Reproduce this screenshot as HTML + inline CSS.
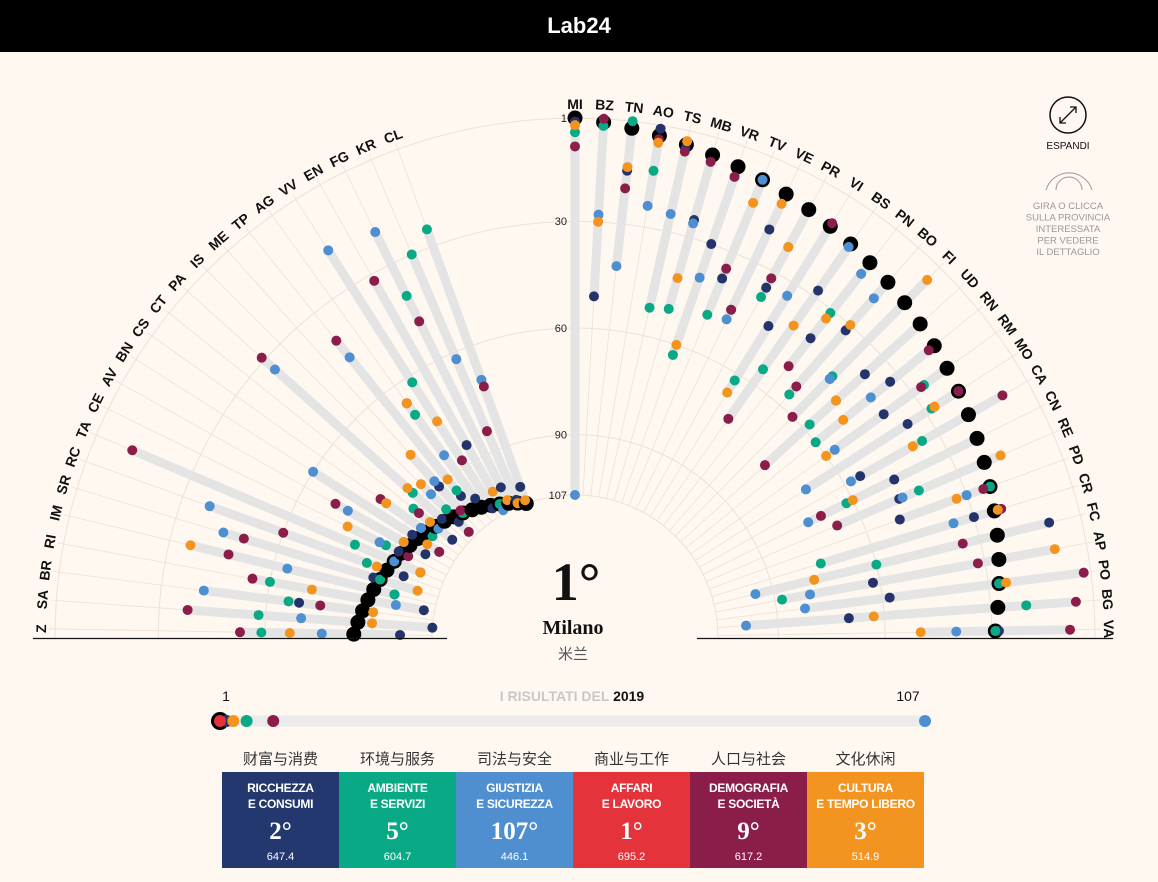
<!DOCTYPE html>
<html><head><meta charset="utf-8">
<style>
html,body{margin:0;padding:0;background:#fef8f1;width:1158px;height:882px;overflow:hidden;font-family:"Liberation Sans","Noto Sans CJK SC",sans-serif;}
#hdr{position:absolute;left:0;top:0;width:1158px;height:52px;background:#000;color:#fff;text-align:center;font:bold 22px/52px "Liberation Sans",sans-serif;}
svg{position:absolute;left:0;top:0;}
.box{position:absolute;top:772px;width:117px;height:96px;color:#fff;text-align:center;}
.box .t{font:bold 12px/16px "Liberation Sans Narrow","Liberation Sans",sans-serif;margin-top:8px;letter-spacing:-0.3px;}
.box .r{font:bold 25px/28px "Liberation Serif",serif;margin-top:6px;}
.box .s{font:11px/14px "Liberation Sans",sans-serif;margin-top:4px;}
.zh{position:absolute;top:748px;width:117px;text-align:center;font:15px "Liberation Sans","Noto Sans CJK SC",sans-serif;color:#333;}
</style></head>
<body>
<div id="hdr">Lab<span style="color:#fff">2</span>4</div>
<svg id="chart" width="1158" height="882"></svg>

<div class="zh" style="left:222px">财富与消费</div>
<div class="zh" style="left:339px">环境与服务</div>
<div class="zh" style="left:456px">司法与安全</div>
<div class="zh" style="left:573px">商业与工作</div>
<div class="zh" style="left:690px">人口与社会</div>
<div class="zh" style="left:807px">文化休闲</div>

<div class="box" style="left:222px;background:#22386f"><div class="t">RICCHEZZA<br>E CONSUMI</div><div class="r">2°</div><div class="s">647.4</div></div>
<div class="box" style="left:339px;background:#0aa985"><div class="t">AMBIENTE<br>E SERVIZI</div><div class="r">5°</div><div class="s">604.7</div></div>
<div class="box" style="left:456px;background:#4f8fcf"><div class="t">GIUSTIZIA<br>E SICUREZZA</div><div class="r">107°</div><div class="s">446.1</div></div>
<div class="box" style="left:573px;background:#e4333b"><div class="t">AFFARI<br>E LAVORO</div><div class="r">1°</div><div class="s">695.2</div></div>
<div class="box" style="left:690px;background:#8a1e48"><div class="t">DEMOGRAFIA<br>E SOCIETÀ</div><div class="r">9°</div><div class="s">617.2</div></div>
<div class="box" style="left:807px;background:#f39420"><div class="t">CULTURA<br>E TEMPO LIBERO</div><div class="r">3°</div><div class="s">514.9</div></div>

<script>
// ---- data ----
const rightNames=["MI","BZ","TN","AO","TS","MB","VR","TV","VE","PR","VI","BS","PN","BO","FI","UD","RN","RM","MO","CA","CN","RE","PD","CR","FC","AP","PO","BG","VA"];
const rightOverall=[1,2,3,4,5,6,7,8,9,10,11,12,13,14,15,16,17,18,19,20,21,22,23,24,25,26,27,28,29];
const rightNavy=[2,51,15,2,6,25,30,38,20,35,44,28,40,32,45,37,33,40,36,55,47,48,50,30,10,62,58,70,28];
const rightGreen=[5,3,1,14,52,51,63,49,45,38,62,55,31,56,44,58,60,26,28,35,62,42,23,75,60,88,27,20,29];
const rightBlue=[107,28,42,24,25,26,40,8,48,22,34,13,17,20,45,48,40,57,70,58,74,47,30,36,95,80,82,99,40];
const rightRed=[1,2,3,5,6,7,7,8,9,10,11,12,13,14,15,16,17,18,19,20,21,22,23,24,25,26,27,28,29];
const rightMaroon=[9,1,20,5,7,8,10,35,45,32,10,72,50,53,60,75,19,27,19,9,70,67,25,22,35,32,3,6,8];
const rightOrange=[3,30,14,6,4,42,60,15,12,22,66,40,33,30,6,48,50,60,27,38,60,17,33,23,78,10,25,63,50];

const leftNames=["Z","SA","BR","RI","IM","SR","RC","TA","CE","AV","BN","CS","CT","PA","IS","ME","TP","AG","VV","EN","FG","KR","CL"];
const leftOverall=[85,86,87,88,89,90,91,92,93,94,95,96,97,98,99,100,101,102,103,104,105,106,107];
const leftNavy=[98,107,69,104,95,88,96,100,92,99,93,94,103,97,101,90,96,99,104,85,100,105,102];
const leftGreen=[59,58,66,60,95,90,85,80,88,92,102,98,89,86,96,100,94,70,62,104,40,30,25];
const leftBlue=[76,70,42,96,64,44,38,92,86,74,60,94,98,34,90,88,46,84,18,106,20,62,70];
const leftRed=[85,86,87,88,89,90,91,92,93,94,95,96,97,98,99,100,101,102,103,104,105,106,107];
const leftMaroon=[53,38,75,55,47,50,60,12,95,70,102,80,91,29,105,99,40,66,88,32,48,84,72];
const leftOrange=[67,90,90,72,36,101,88,100,76,92,98,82,95,84,86,78,90,66,75,100,104,106,106];

const rankTicks=[1,30,60,90,107];
const legendRanks=[2,5,107,1,9,3]; // navy, green, blue, red, maroon, orange for Milano

// ---- drawing ----
const NS="http://www.w3.org/2000/svg";
const svg=document.getElementById('chart');
const cx=575, cy=638, R1=520, R107=143;
function rr(rank){return R1-(rank-1)*(R1-R107)/106;}
function pt(a,r){const t=a*Math.PI/180;return [cx+r*Math.sin(t), cy-r*Math.cos(t)];}
function mk(tag,attrs){const e=document.createElementNS(NS,tag);for(const k in attrs)e.setAttribute(k,attrs[k]);return e;}
const COL={navy:"#25336b",green:"#0aa985",blue:"#4d8fd1",red:"#e4333b",maroon:"#8b1d4a",orange:"#f3941f"};

const gGrid=mk('g',{});
svg.appendChild(gGrid);
rankTicks.forEach(rk=>{
  const r=rr(rk);
  const p0=pt(-90,r),p1=pt(90,r);
  const a=mk('path',{d:`M${p0[0]},${p0[1]} A${r},${r} 0 0 1 ${p1[0]},${p1[1]}`,fill:'none',stroke:'#ece1d6','stroke-width':1});
  
  
  gGrid.appendChild(a);
});

function drawFan(names,angleFn,overall,navy,green,blue,red,maroon,orange){
  const gBars=mk('g',{}),gDots=mk('g',{}),gLab=mk('g',{});
  svg.appendChild(gBars);svg.appendChild(gDots);svg.appendChild(gLab);
  names.forEach((n,i)=>{
    const a=angleFn(i);
    const p0=pt(a,R107),p1=pt(a,R1+6);
    const ln=mk('line',{x1:p0[0],y1:p0[1],x2:p1[0],y2:p1[1],stroke:'#ece1d6','stroke-width':0.8});
    
    
    gGrid.appendChild(ln);
    const vals=[overall[i],navy[i],green[i],blue[i],red[i],maroon[i],orange[i]];
    const mn=Math.min(...vals),mx=Math.max(...vals);
    const b0=pt(a,rr(mn)),b1=pt(a,rr(mx));
    const bar=mk('line',{x1:b0[0],y1:b0[1],x2:b1[0],y2:b1[1],stroke:'#e4e4e4','stroke-width':9,'stroke-linecap':'round'});
    
    
    gBars.appendChild(bar);
    const seq=[['red',red[i]],['black',overall[i]],['navy',navy[i]],['green',green[i]],['blue',blue[i]],['maroon',maroon[i]],['orange',orange[i]]];
    seq.forEach(([c,v])=>{
      const p=pt(a,rr(v));
      const big=c==='black';
      const d=mk('circle',{cx:p[0],cy:p[1],r:big?7.5:5,fill:big?'#000':COL[c]});
      
      
      gDots.appendChild(d);
    });
    const lp=pt(a,R1+14);
    const t=mk('text',{x:lp[0],y:lp[1],'text-anchor':'middle','dominant-baseline':'central','font-size':14,'font-weight':'bold','font-family':'Liberation Sans, sans-serif',fill:'#111',transform:`rotate(${a} ${lp[0]} ${lp[1]})`});
    t.textContent=n;
    
    
    gLab.appendChild(t);
  });
}
drawFan(rightNames,i=>i*3.18,rightOverall,rightNavy,rightGreen,rightBlue,rightRed,rightMaroon,rightOrange);
drawFan(leftNames,k=>-89+k*3.14,leftOverall,leftNavy,leftGreen,leftBlue,leftRed,leftMaroon,leftOrange);

rankTicks.forEach(rk=>{
  const t=mk('text',{x:567,y:cy-rr(rk)+4,'text-anchor':'end','font-size':11,'font-family':'Liberation Sans, sans-serif',fill:'#222'});
  t.textContent=rk;
  
  
  svg.appendChild(t);
});

[[33,447],[697,1113]].forEach(([a,b])=>{
  const l=mk('line',{x1:a,y1:638.5,x2:b,y2:638.5,stroke:'#111','stroke-width':1.2});
  
  
  svg.appendChild(l);
});
const hub1=mk('text',{x:576,y:600,'text-anchor':'middle','font-size':54,'font-weight':'bold','font-family':'Liberation Serif, serif',fill:'#111'});
hub1.textContent='1°';


svg.appendChild(hub1);
const hub2=mk('text',{x:573,y:634,'text-anchor':'middle','font-size':20,'font-weight':'bold','font-family':'Liberation Serif, serif',fill:'#111'});
hub2.textContent='Milano';


svg.appendChild(hub2);
const hub3=mk('text',{x:573,y:659,'text-anchor':'middle','font-size':15,'font-family':'Liberation Sans, Noto Sans CJK SC, sans-serif',fill:'#555'});
hub3.textContent='米兰';


svg.appendChild(hub3);

const bx0=220,bx1=925,by=721;
function bxs(r){return bx0+(r-1)/106*(bx1-bx0);}
const track=mk('line',{x1:bx0,y1:by,x2:bx1,y2:by,stroke:'#ebebeb','stroke-width':11,'stroke-linecap':'round'});


svg.appendChild(track);
const blk=mk('circle',{cx:bxs(1),cy:by,r:9,fill:'#000'});


svg.appendChild(blk);
const legCols=['navy','green','blue','red','maroon','orange'];
[0,2,4,5,1,3].forEach(j=>{
  const c=mk('circle',{cx:bxs(legendRanks[j]),cy:by,r:6,fill:COL[legCols[j]]});
  
  
  svg.appendChild(c);
});
function txt(x,y,s,attrs,name){const t=mk('text',Object.assign({x:x,y:y,'font-family':'Liberation Sans, sans-serif'},attrs));t.textContent=s;svg.appendChild(t);return t;}
txt(226,701,'1',{'font-size':14,'text-anchor':'middle',fill:'#111'},'track-min-label');
txt(908,701,'107',{'font-size':14,'text-anchor':'middle',fill:'#111'},'track-max-label');
const yr=mk('text',{x:572,y:701,'text-anchor':'middle','font-size':14,'font-weight':'bold','font-family':'Liberation Sans Narrow, Liberation Sans, sans-serif'});
yr.innerHTML='<tspan fill="#c8c8c8">I RISULTATI DEL </tspan><tspan fill="#111">2019</tspan>';


svg.appendChild(yr);

const ec=mk('circle',{cx:1068,cy:115,r:18,fill:'none',stroke:'#111','stroke-width':1.5});


svg.appendChild(ec);
const ea=mk('path',{d:'M1060,123 L1076,107 M1070,107 L1076,107 L1076,113 M1060,117 L1060,123 L1066,123',fill:'none',stroke:'#111','stroke-width':1.3});


svg.appendChild(ea);
txt(1068,149,'ESPANDI',{'font-size':10,'text-anchor':'middle',fill:'#111'},'expand-label');
const rot=mk('path',{d:'M1046,190 A24,24 0 0 1 1092,190 M1056,190 A13,13 0 0 1 1082,190',fill:'none',stroke:'#999','stroke-width':1});


svg.appendChild(rot);
['GIRA O CLICCA','SULLA PROVINCIA','INTERESSATA','PER VEDERE','IL DETTAGLIO'].forEach((s,i)=>{
  txt(1068,209+i*11.5,s,{'font-size':9.5,'text-anchor':'middle',fill:'#999'},'rotate-hint-text');
});
</script>
</body></html>
